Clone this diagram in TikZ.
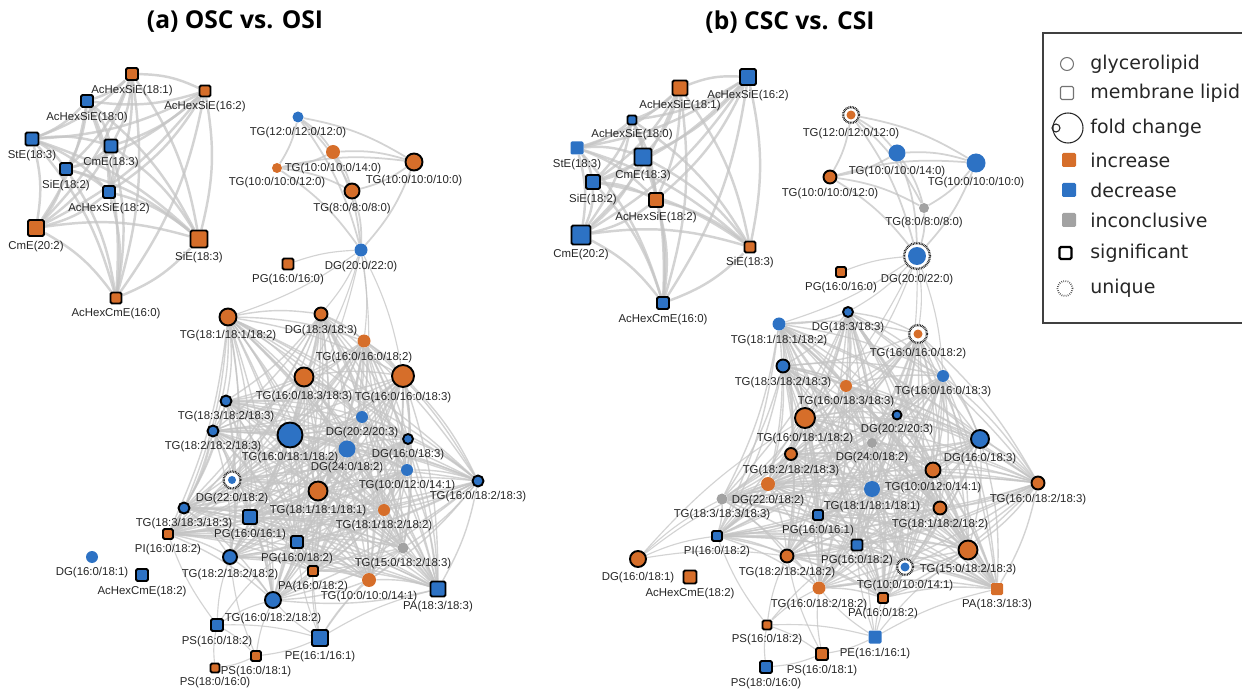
\documentclass[tikz,border=0pt]{standalone}
\usepackage{fontspec}
\setmainfont{Liberation Sans}
\newfontfamily\ttlfont{Open Sans}
\newfontfamily\lgdfont{DejaVu Sans}
\usetikzlibrary{positioning,backgrounds}

\definecolor{incc}{RGB}{214,110,42}
\definecolor{decc}{RGB}{45,114,196}
\definecolor{inconc}{RGB}{162,162,162}
\definecolor{linkc}{RGB}{196,196,196}

\tikzset{
  gl/.style={circle, inner sep=0pt, minimum size=#1*0.02cm},
  ml/.style={rectangle, rounded corners=0.8pt, inner sep=0pt, minimum size=#1*0.02cm},
  incr/.style={fill=incc},
  decr/.style={fill=decc},
  incon/.style={fill=inconc},
  sig/.style={draw=black, line width=1.1pt},
  uniq/.style 2 args={fill=white, draw=black!85, line width=1.3pt, dash pattern=on 0.45pt off 0.45pt,
    path picture={\fill[#1] (path picture bounding box.center) circle (#2*0.01cm);}},
  link/.style={draw=linkc, line width=#1, opacity=0.75},
  link/.default=0.8pt,
  ttl/.style={font=\ttlfont\bfseries\fontsize{14}{16}\selectfont},
  lgd/.style={anchor=west, inner sep=0pt, text=black!85, font=\lgdfont\fontsize{10.8}{12}\selectfont},
  every label/.style={font=\fontsize{6.5}{7.5}\selectfont, inner sep=0.5pt, text=black!85},
}

\begin{document}
\begin{tikzpicture}[x=0.02cm, y=-0.02cm, label distance=1.6pt]
\useasboundingbox (0,0) rectangle (1242,689);

% titles
\node[ttl] (ttlA) at (235,22) {(a) OSC vs. OSI};
\node[ttl] (ttlB) at (790,22) {(b) CSC vs. CSI};

% ---------- (a) sterol lipids
\node[ml=12, incr, sig, label={below:{AcHexSiE(18:1)}}] (aAHS181) at (132,74) {};
\node[ml=11, incr, sig, label={below:{AcHexSiE(16:2)}}] (aAHS162) at (205,91) {};
\node[ml=12, decr, sig, label={below:{AcHexSiE(18:0)}}] (aAHS180) at (87,101) {};
\node[ml=13, decr, sig, label={below:{StE(18:3)}}] (aStE183) at (32,139) {};
\node[ml=13, decr, sig, label={below:{CmE(18:3)}}] (aCmE183) at (111,146) {};
\node[ml=12, decr, sig, label={below:{SiE(18:2)}}] (aSiE182) at (66,169) {};
\node[ml=12, decr, sig, label={below:{AcHexSiE(18:2)}}] (aAHS182) at (109,192) {};
\node[ml=16, incr, sig, label={below:{CmE(20:2)}}] (aCmE202) at (36,228) {};
\node[ml=17, incr, sig, label={below:{SiE(18:3)}}] (aSiE183) at (199,239) {};
\node[ml=11, incr, sig, label={below:{AcHexCmE(16:0)}}] (aAHC160) at (116,298) {};

% ---------- (a) short TG
\node[gl=11, decr, label={below:{TG(12:0/12:0/12:0)}}] (aTG120-120-120) at (298,117) {};
\node[gl=14, incr, label={below:{TG(10:0/10:0/14:0)}}] (aTG100-100-140) at (333,152) {};
\node[gl=10, incr, label={below:{TG(10:0/10:0/12:0)}}] (aTG100-100-120) at (277,168) {};
\node[gl=17, incr, sig, label={below:{TG(10:0/10:0/10:0)}}] (aTG100-100-100) at (414,162) {};
\node[gl=15, incr, sig, label={below:{TG(8:0/8:0/8:0)}}] (aTG80-80-80) at (352,191) {};
\node[gl=13, decr, label={below:{DG(20:0/22:0)}}] (aDG200-220) at (361,250) {};
\node[ml=11, incr, sig, label={below:{PG(16:0/16:0)}}] (aPG160-160) at (288,264) {};

% ---------- (a) main cluster
\node[gl=17, incr, sig, label={below:{TG(18:1/18:1/18:2)}}] (aTG181-181-182) at (228,317) {};
\node[gl=13, incr, sig, label={below:{DG(18:3/18:3)}}] (aDG183-183) at (321,314) {};
\node[gl=13, incr, label={below:{TG(16:0/16:0/18:2)}}] (aTG160-160-182) at (364,341) {};
\node[gl=19, incr, sig, label={below:{TG(16:0/18:3/18:3)}}] (aTG160-183-183) at (304,377) {};
\node[gl=22, incr, sig, label={below:{TG(16:0/16:0/18:3)}}] (aTG160-160-183) at (403,376) {};
\node[gl=11, decr, sig, label={below:{TG(18:3/18:2/18:3)}}] (aTG183-182-183) at (226,401) {};
\node[gl=12, decr, label={below:{DG(20:2/20:3)}}] (aDG202-203) at (362,417) {};
\node[gl=11, decr, sig, label={below:{TG(18:2/18:2/18:3)}}] (aTG182-182-183) at (213,431) {};
\node[gl=25, decr, sig, label={below:{TG(16:0/18:1/18:2)}}] (aTG160-181-182) at (290,435) {};
\node[gl=17, decr, label={below:{DG(24:0/18:2)}}] (aDG240-182) at (347,449) {};
\node[gl=10, decr, sig, label={below:{DG(16:0/18:3)}}] (aDG160-183) at (408,439) {};
\node[gl=12, decr, label={below:{TG(10:0/12:0/14:1)}}] (aTG100-120-141) at (407,470) {};
\node[gl=17, uniq={decc}{8}, label={below:{DG(22:0/18:2)}}] (aDG220-182) at (232,480) {};
\node[gl=19, incr, sig, label={below:{TG(18:1/18:1/18:1)}}] (aTG181-181-181) at (318,491) {};
\node[gl=11, decr, sig, label={below:{TG(16:0/18:2/18:3)}}] (aTG160-182-183) at (478,481) {};
\node[gl=12, incr, label={below:{TG(18:1/18:2/18:2)}}] (aTG181-182-182) at (384,510) {};
\node[gl=11, decr, sig, label={below:{TG(18:3/18:3/18:3)}}] (aTG183-183-183) at (184,508) {};
\node[ml=14, decr, sig, label={below:{PG(16:0/16:1)}}] (aPG160-161) at (250,517) {};
\node[ml=10, incr, sig, label={below:{PI(16:0/18:2)}}] (aPI160-182) at (168,534) {};
\node[ml=12, decr, sig, label={below:{PG(16:0/18:2)}}] (aPG160-182) at (297,542) {};
\node[gl=11, incon, label={below:{TG(15:0/18:2/18:3)}}] (aTG150-182-183) at (403,548) {};
\node[gl=12, decr, label={below:{DG(16:0/18:1)}}] (aDG160-181) at (92,557) {};
\node[gl=14, decr, sig, label={below:{TG(18:2/18:2/18:2)}}] (aTG182-182-182) at (230,557) {};
\node[ml=12, decr, sig, label={below:{AcHexCmE(18:2)}}] (aAHC182) at (142,575) {};
\node[ml=10, incr, sig, label={below:{PA(16:0/18:2)}}] (aPA160-182) at (313,571) {};
\node[gl=14, incr, label={below:{TG(10:0/10:0/14:1)}}] (aTG100-100-141) at (369,580) {};
\node[ml=15, decr, sig, label={below:{PA(18:3/18:3)}}] (aPA183-183) at (438,589) {};
\node[gl=16, decr, sig, label={below:{TG(16:0/18:2/18:2)}}] (aTG160-182-182) at (273,600) {};
\node[ml=12, decr, sig, label={below:{PS(16:0/18:2)}}] (aPS160-182) at (217,625) {};
\node[ml=16, decr, sig, label={below:{PE(16:1/16:1)}}] (aPE161-161) at (320,638) {};
\node[ml=10, incr, sig, label={below:{PS(16:0/18:1)}}] (aPS160-181) at (256,656) {};
\node[ml=9, incr, sig, label={below:{PS(18:0/16:0)}}] (aPS180-160) at (215,668) {};

% ---------- (b) sterol lipids
\node[ml=15, incr, sig, label={below:{AcHexSiE(18:1)}}] (bAHS181) at (680,88) {};
\node[ml=16, decr, sig, label={below:{AcHexSiE(16:2)}}] (bAHS162) at (748,77) {};
\node[ml=9, decr, sig, label={below:{AcHexSiE(18:0)}}] (bAHS180) at (632,120) {};
\node[ml=13, decr, label={below:{StE(18:3)}}] (bStE183) at (577,148) {};
\node[ml=17, decr, sig, label={below:{CmE(18:3)}}] (bCmE183) at (643,157) {};
\node[ml=14, decr, sig, label={below:{SiE(18:2)}}] (bSiE182) at (593,182) {};
\node[ml=14, incr, sig, label={below:{AcHexSiE(18:2)}}] (bAHS182) at (656,200) {};
\node[ml=19, decr, sig, label={below:{CmE(20:2)}}] (bCmE202) at (581,235) {};
\node[ml=11, incr, sig, label={below:{SiE(18:3)}}] (bSiE183) at (750,247) {};
\node[ml=12, decr, sig, label={below:{AcHexCmE(16:0)}}] (bAHC160) at (663,303) {};

% ---------- (b) short TG
\node[gl=16, uniq={incc}{9}, label={below:{TG(12:0/12:0/12:0)}}] (bTG120-120-120) at (851,115) {};
\node[gl=17, decr, label={below:{TG(10:0/10:0/14:0)}}] (bTG100-100-140) at (897,153) {};
\node[gl=19, decr, label={below:{TG(10:0/10:0/10:0)}}] (bTG100-100-100) at (976,163) {};
\node[gl=13, incr, sig, label={below:{TG(10:0/10:0/12:0)}}] (bTG100-100-120) at (830,177) {};
\node[gl=10, incon, label={below:{TG(8:0/8:0/8:0)}}] (bTG80-80-80) at (924,208) {};
\node[gl=26, uniq={decc}{18}, label={below:{DG(20:0/22:0)}}] (bDG200-220) at (917,256) {};
\node[ml=10, incr, sig, label={below:{PG(16:0/16:0)}}] (bPG160-160) at (841,272) {};

% ---------- (b) main cluster
\node[gl=10, decr, sig, label={below:{DG(18:3/18:3)}}] (bDG183-183) at (848,312) {};
\node[gl=13, decr, label={below:{TG(18:1/18:1/18:2)}}] (bTG181-181-182) at (779,324) {};
\node[gl=18, uniq={incc}{9}, label={below:{TG(16:0/16:0/18:2)}}] (bTG160-160-182) at (918,334) {};
\node[gl=13, decr, sig, label={below:{TG(18:3/18:2/18:3)}}] (bTG183-182-183) at (783,366) {};
\node[gl=12, incr, label={below:{TG(16:0/18:3/18:3)}}] (bTG160-183-183) at (846,386) {};
\node[gl=12, decr, label={below:{TG(16:0/16:0/18:3)}}] (bTG160-160-183) at (943,376) {};
\node[gl=20, incr, sig, label={below:{TG(16:0/18:1/18:2)}}] (bTG160-181-182) at (805,418) {};
\node[gl=9, decr, sig, label={below:{DG(20:2/20:3)}}] (bDG202-203) at (897,415) {};
\node[gl=18, decr, sig, label={below:{DG(16:0/18:3)}}] (bDG160-183) at (980,439) {};
\node[gl=10, incon, label={below:{DG(24:0/18:2)}}] (bDG240-182) at (872,443) {};
\node[gl=12, incr, sig, label={below:{TG(18:2/18:2/18:3)}}] (bTG182-182-183) at (791,454) {};
\node[gl=15, incr, sig, label={below:{TG(10:0/12:0/14:1)}}] (bTG100-120-141) at (933,470) {};
\node[gl=14, incr, label={below:{DG(22:0/18:2)}}] (bDG220-182) at (768,484) {};
\node[gl=11, incon, label={below:{TG(18:3/18:3/18:3)}}] (bTG183-183-183) at (722,499) {};
\node[gl=16, decr, label={below:{TG(18:1/18:1/18:1)}}] (bTG181-181-181) at (872,489) {};
\node[gl=13, incr, sig, label={below:{TG(16:0/18:2/18:3)}}] (bTG160-182-183) at (1038,483) {};
\node[gl=13, incr, sig, label={below:{TG(18:1/18:2/18:2)}}] (bTG181-182-182) at (940,508) {};
\node[ml=10, decr, sig, label={below:{PG(16:0/16:1)}}] (bPG160-161) at (818,515) {};
\node[ml=10, decr, sig, label={below:{PI(16:0/18:2)}}] (bPI160-182) at (717,536) {};
\node[ml=11, decr, sig, label={below:{PG(16:0/18:2)}}] (bPG160-182) at (857,545) {};
\node[gl=19, incr, sig, label={below:{TG(15:0/18:2/18:3)}}] (bTG150-182-183) at (968,550) {};
\node[gl=16, incr, sig, label={below:{DG(16:0/18:1)}}] (bDG160-181) at (638,559) {};
\node[gl=13, incr, sig, label={below:{TG(18:2/18:2/18:2)}}] (bTG182-182-182) at (787,556) {};
\node[gl=16, uniq={decc}{9}, label={below:{TG(10:0/10:0/14:1)}}] (bTG100-100-141) at (905,567) {};
\node[ml=13, incr, sig, label={below:{AcHexCmE(18:2)}}] (bAHC182) at (690,577) {};
\node[gl=13, incr, label={below:{TG(16:0/18:2/18:2)}}] (bTG160-182-182) at (819,588) {};
\node[ml=10, incr, sig, label={below:{PA(16:0/18:2)}}] (bPA160-182) at (883,598) {};
\node[ml=12, incr, label={below:{PA(18:3/18:3)}}] (bPA183-183) at (997,589) {};
\node[ml=9, incr, sig, label={below:{PS(16:0/18:2)}}] (bPS160-182) at (767,625) {};
\node[ml=13, decr, label={below:{PE(16:1/16:1)}}] (bPE161-161) at (875,637) {};
\node[ml=12, incr, sig, label={below:{PS(16:0/18:1)}}] (bPS160-181) at (822,654) {};
\node[ml=12, decr, sig, label={below:{PS(18:0/16:0)}}] (bPS180-160) at (766,667) {};

% ---------- legend
\draw[line width=0.9pt, draw=black!75] (1250,33) -- (1043,33) -- (1043,323) -- (1250,323);
\node[gl=13, draw=black!55, line width=0.6pt] (lgGly) at (1067,64) {};
\node[lgd] (lgGlyT) at (1090,64) {glycerolipid};
\node[ml=13, draw=black!55, line width=0.6pt] (lgMem) at (1067,93) {};
\node[lgd] (lgMemT) at (1090,93) {membrane lipid};
\node[gl=30, draw=black!85, line width=0.6pt] (lgFold) at (1068,128) {};
\node[gl=8, draw=black!85, line width=0.6pt] (lgFoldS) at (1056,128) {};
\node[lgd] (lgFoldT) at (1090,128) {fold change};
\node[ml=14, incr] (lgInc) at (1069,160) {};
\node[lgd] (lgIncT) at (1090,160) {increase};
\node[ml=14, decr] (lgDec) at (1069,190) {};
\node[lgd] (lgDecT) at (1090,190) {decrease};
\node[ml=14, incon] (lgUnc) at (1069,220) {};
\node[lgd] (lgUncT) at (1090,220) {inconclusive};
\node[ml=12, draw=black, line width=1.3pt] (lgSig) at (1065.5,253) {};
\node[lgd] (lgSigT) at (1090,253) {significant};
\node[gl=15, draw=black!70, line width=1pt, dash pattern=on 0.4pt off 0.8pt] (lgUnq) at (1065,288.5) {};
\node[lgd] (lgUnqT) at (1090,288.5) {unique};

% ---------- links
\def\asterol{aAHS181,aAHS162,aAHS180,aStE183,aCmE183,aSiE182,aAHS182,aCmE202,aSiE183,aAHC160}
\def\bsterol{bAHS181,bAHS162,bAHS180,bStE183,bCmE183,bSiE182,bAHS182,bCmE202,bSiE183,bAHC160}
\def\ashort{aTG120-120-120,aTG100-100-140,aTG100-100-120,aTG100-100-100,aTG80-80-80,aDG200-220}
\def\bshort{bTG120-120-120,bTG100-100-140,bTG100-100-120,bTG100-100-100,bTG80-80-80,bDG200-220}
\def\acore{aTG181-181-182,aDG183-183,aTG160-160-182,aTG160-183-183,aTG160-160-183,aTG183-182-183,aDG202-203,aTG182-182-183,aTG160-181-182,aDG240-182,aDG160-183,aTG100-120-141,aDG220-182,aTG181-181-181,aTG160-182-183,aTG181-182-182,aTG183-183-183,aPG160-161,aPI160-182,aPG160-182,aTG150-182-183,aTG182-182-182,aPA160-182,aTG100-100-141,aPA183-183,aTG160-182-182}
\def\bcore{bDG183-183,bTG181-181-182,bTG160-160-182,bTG183-182-183,bTG160-183-183,bTG160-160-183,bTG160-181-182,bDG202-203,bDG160-183,bDG240-182,bTG182-182-183,bTG100-120-141,bDG220-182,bTG183-183-183,bTG181-181-181,bTG160-182-183,bTG181-182-182,bPG160-161,bPI160-182,bPG160-182,bTG150-182-183,bTG182-182-182,bTG100-100-141,bTG160-182-182,bPA160-182,bPA183-183}

\begin{scope}[on background layer]
  % dense groups: every pair linked
  \foreach \p [count=\i] in \asterol {
    \foreach \q [count=\j] in \asterol {
      \ifnum\j>\i \draw[link=1.4pt] (\p) to[bend left=12] (\q); \fi
    }
  }
  \foreach \p [count=\i] in \bsterol {
    \foreach \q [count=\j] in \bsterol {
      \ifnum\j>\i \draw[link=1.4pt] (\p) to[bend left=12] (\q); \fi
    }
  }
  \foreach \p [count=\i] in \ashort {
    \foreach \q [count=\j] in \ashort {
      \ifnum\j>\i \draw[link=1pt] (\p) to[bend left=10] (\q); \fi
    }
  }
  \foreach \p [count=\i] in \bshort {
    \foreach \q [count=\j] in \bshort {
      \ifnum\j>\i \draw[link=1pt] (\p) to[bend left=10] (\q); \fi
    }
  }
  \foreach \p [count=\i] in \acore {
    \foreach \q [count=\j] in \acore {
      \ifnum\j>\i \draw[link] (\p) to[bend left=9] (\q); \fi
    }
  }
  \foreach \p [count=\i] in \bcore {
    \foreach \q [count=\j] in \bcore {
      \ifnum\j>\i \draw[link] (\p) to[bend left=9] (\q); \fi
    }
  }
  % sparse links
  \foreach \p/\q in {aPG160-160/aDG200-220, aDG200-220/aDG183-183, aDG200-220/aTG160-160-182,
      aDG200-220/aTG181-181-182, aDG200-220/aTG160-183-183, aDG200-220/aTG160-160-183,
      aDG200-220/aDG202-203, aDG200-220/aTG160-181-182,
      aPS160-182/aTG182-182-182, aPS160-182/aTG160-182-182, aPS160-182/aPE161-161,
      aPS160-182/aPS160-181, aPS160-182/aPG160-182, aPS160-182/aPI160-182,
      aPE161-161/aTG160-182-182, aPE161-161/aPA160-182, aPE161-161/aTG100-100-141,
      aPE161-161/aPA183-183, aPE161-161/aPS160-181, aPE161-161/aTG150-182-183,
      aPE161-161/aPG160-182, aPE161-161/aTG181-181-181,
      aPS160-181/aTG160-182-182, aPS160-181/aPS180-160, aPS160-181/aTG182-182-182,
      aPS180-160/aPS160-182,
      bPG160-160/bDG200-220, bDG200-220/bDG183-183, bDG200-220/bTG160-160-182,
      bDG200-220/bTG181-181-182, bDG200-220/bTG160-160-183, bDG200-220/bTG160-183-183,
      bDG200-220/bDG202-203, bDG200-220/bTG160-181-182,
      bDG160-181/bTG183-183-183, bDG160-181/bPI160-182, bDG160-181/bDG220-182,
      bDG160-181/bTG182-182-182, bDG160-181/bTG160-181-182,
      bPS160-182/bTG182-182-182, bPS160-182/bTG160-182-182, bPS160-182/bPE161-161,
      bPS160-182/bPS160-181, bPS160-182/bPG160-182, bPS160-182/bPI160-182,
      bPE161-161/bTG160-182-182, bPE161-161/bPA160-182, bPE161-161/bTG100-100-141,
      bPE161-161/bPA183-183, bPE161-161/bPS160-181, bPE161-161/bTG150-182-183,
      bPE161-161/bPG160-182, bPE161-161/bTG181-181-181,
      bPS160-181/bTG160-182-182, bPS160-181/bPS180-160, bPS160-181/bTG182-182-182,
      bPS180-160/bPS160-182}
    \draw[link=0.65pt] (\p) to[bend left=8] (\q);
\end{scope}
\end{tikzpicture}
\end{document}
